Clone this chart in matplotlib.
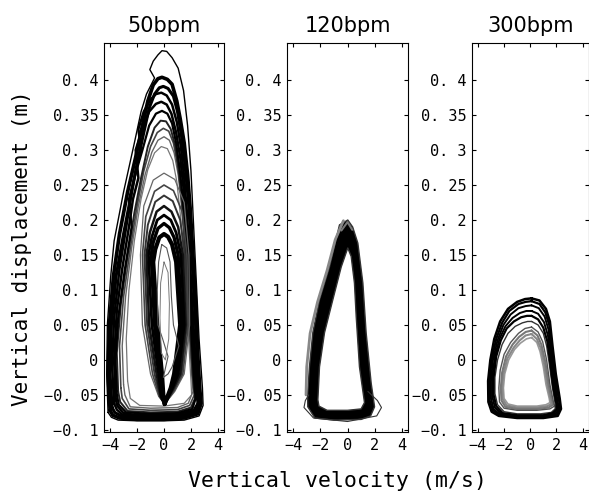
#!/usr/bin/env python
# Phase portraits (vertical velocity vs vertical displacement) at three tempos.

import matplotlib
matplotlib.use('Agg')
import matplotlib.pyplot as plt
from matplotlib.path import Path
from matplotlib.patches import PathPatch

# ---- data: (velocity m/s, displacement m) ----
titles = ['50bpm', '120bpm', '300bpm']
x_ticks = [-4, -2, 0, 2, 4]
x_tick_labels = ['\u22124', '\u22122', '0', '2', '4']
y_ticks = [-0.1, -0.05, 0, 0.05, 0.1, 0.15, 0.2, 0.25, 0.3, 0.35, 0.4]
y_tick_labels = ['\u22120. 1', '\u22120. 05', '0', '0. 05', '0. 1', '0. 15',
                 '0. 2', '0. 25', '0. 3', '0. 35', '0. 4']

# 50 bpm: big loops with flat bottom
loops_50_outer = [
    [(-4.15,-0.075),(-4.25,-0.02),(-4.2,0.05),(-3.95,0.12),(-3.7,0.17),(-3.0,0.24),(-2.2,0.31),
     (-1.7,0.355),(-1.3,0.38),(-0.7,0.403),(-1.05,0.415),(-0.8,0.427),(-0.45,0.436),(-0.15,0.442),
     (0.2,0.441),(0.6,0.432),(1.05,0.417),(1.45,0.385),(1.75,0.335),(2.0,0.27),(2.2,0.19),(2.4,0.11),
     (2.6,0.03),(2.85,-0.04),(2.9,-0.065),(2.6,-0.08),(1.5,-0.086),(0.0,-0.087),(-2.0,-0.087),
     (-3.4,-0.086),(-3.9,-0.082),(-4.15,-0.075)],
    [(-4.0,-0.072),(-4.15,-0.02),(-4.05,0.05),(-3.75,0.12),(-3.3,0.18),(-2.7,0.24),(-2.1,0.29),
     (-1.6,0.335),(-1.2,0.37),(-0.8,0.393),(-0.45,0.402),(-0.15,0.404),(0.25,0.401),(0.6,0.394),
     (0.95,0.37),(1.2,0.345),(1.5,0.31),(1.75,0.265),(1.95,0.215),(2.15,0.15),(2.35,0.08),(2.5,0.01),
     (2.65,-0.04),(2.75,-0.062),(2.5,-0.077),(1.5,-0.083),(0,-0.085),(-2,-0.085),(-3.3,-0.083),
     (-3.8,-0.079),(-4.0,-0.072)],
    [(-3.85,-0.068),(-4.0,-0.02),(-3.9,0.05),(-3.55,0.12),(-3.0,0.18),(-2.5,0.23),(-2.0,0.28),
     (-1.5,0.325),(-1.1,0.36),(-0.7,0.38),(-0.35,0.389),(-0.05,0.391),(0.3,0.388),(0.7,0.377),
     (1.0,0.355),(1.3,0.32),(1.55,0.28),(1.8,0.23),(2.0,0.17),(2.2,0.1),(2.4,0.03),(2.55,-0.03),
     (2.65,-0.058),(2.4,-0.074),(1.5,-0.08),(0,-0.082),(-2,-0.082),(-3.2,-0.08),(-3.65,-0.075),
     (-3.85,-0.068)],
    [(-3.7,-0.062),(-3.85,-0.01),(-3.7,0.06),(-3.3,0.13),(-2.8,0.19),(-2.4,0.24),(-2.1,0.27),
     (-1.7,0.3),(-1.9,0.33),(-1.5,0.355),(-1.0,0.372),(-0.6,0.38),(-0.2,0.382),(0.2,0.378),
     (0.6,0.365),(0.95,0.34),(1.25,0.305),(1.5,0.26),(1.7,0.21),(1.9,0.15),(2.1,0.08),(2.3,0.01),
     (2.45,-0.04),(2.55,-0.06),(2.3,-0.073),(1.5,-0.078),(0,-0.08),(-2,-0.08),(-3.1,-0.078),
     (-3.5,-0.071),(-3.7,-0.062)],
    [(-3.6,-0.055),(-3.7,0.0),(-3.5,0.07),(-3.1,0.13),(-2.6,0.19),(-2.3,0.23),(-1.9,0.26),
     (-2.1,0.3),(-1.6,0.33),(-1.1,0.355),(-0.6,0.366),(-0.2,0.369),(0.2,0.365),(0.55,0.352),
     (0.9,0.325),(1.2,0.29),(1.45,0.245),(1.65,0.195),(1.85,0.135),(2.05,0.07),(2.25,0.0),
     (2.4,-0.045),(2.5,-0.062),(2.2,-0.072),(1.2,-0.077),(0,-0.079),(-2,-0.079),(-3.0,-0.076),
     (-3.45,-0.066),(-3.6,-0.055)],
    [(-3.5,-0.05),(-3.6,0.0),(-3.4,0.06),(-2.9,0.13),(-2.4,0.19),(-2.6,0.23),(-2.2,0.26),
     (-1.6,0.3),(-1.1,0.335),(-0.6,0.352),(-0.15,0.356),(0.25,0.352),(0.6,0.338),(0.9,0.31),
     (1.15,0.275),(1.4,0.23),(1.6,0.18),(1.8,0.12),(2.0,0.05),(2.2,-0.02),(2.35,-0.055),
     (2.1,-0.07),(1.0,-0.076),(-1,-0.077),(-2.8,-0.075),(-3.35,-0.064),(-3.5,-0.05)],
    [(-3.4,-0.045),(-3.5,0.01),(-3.2,0.08),(-2.7,0.15),(-2.2,0.21),(-1.7,0.26),(-1.2,0.305),
     (-0.7,0.332),(-0.25,0.342),(0.15,0.341),(0.5,0.33),(0.85,0.305),(1.1,0.27),(1.35,0.225),
     (1.55,0.17),(1.75,0.11),(1.95,0.04),(2.15,-0.025),(2.3,-0.055),(2.0,-0.068),(1.0,-0.074),
     (-1,-0.075),(-2.7,-0.073),(-3.25,-0.06),(-3.4,-0.045)],
    [(-3.2,-0.04),(-3.3,0.02),(-3.0,0.09),(-2.5,0.16),(-2.0,0.22),(-1.5,0.27),(-1.0,0.305),
     (-0.5,0.325),(-0.05,0.331),(0.35,0.327),(0.7,0.31),(1.0,0.28),(1.25,0.24),(1.5,0.185),
     (1.7,0.12),(1.9,0.05),(2.1,-0.02),(2.25,-0.05),(1.9,-0.065),(1.0,-0.071),(-1,-0.072),
     (-2.6,-0.07),(-3.1,-0.055),(-3.2,-0.04)],
    [(-3.0,-0.035),(-3.1,0.02),(-2.85,0.09),(-2.4,0.16),(-1.9,0.22),(-1.4,0.265),(-0.9,0.297),
     (-0.45,0.314),(0.0,0.319),(0.4,0.314),(0.75,0.296),(1.05,0.265),(1.3,0.22),(1.5,0.165),
     (1.7,0.1),(1.9,0.03),(2.05,-0.02),(2.15,-0.045),(1.8,-0.062),(1.0,-0.068),(-1,-0.069),
     (-2.5,-0.067),(-2.9,-0.05),(-3.0,-0.035)],
    [(-2.7,-0.03),(-2.8,0.03),(-2.6,0.1),(-2.2,0.17),(-1.7,0.23),(-1.2,0.272),(-0.7,0.296),
     (-0.2,0.305),(0.25,0.302),(0.65,0.285),(0.95,0.255),(1.2,0.21),(1.45,0.15),(1.65,0.085),
     (1.85,0.02),(2.0,-0.03),(2.05,-0.05),(1.5,-0.062),(0,-0.066),(-1.8,-0.065),(-2.5,-0.055),
     (-2.7,-0.03)],
]
colors_50_outer = ['black', 'black', 'black', 'black', 'black', 'black', '#222', '#444', '#666', '#777']
widths_50_outer = [1.0, 2.6, 2.2, 1.8, 1.8, 1.6, 1.4, 1.2, 1.0, 0.9]

# 50 bpm: smaller loops with a V shaped bottom
loops_50_inner = [
    [(0.05,-0.063),(0.8,-0.045),(1.5,-0.02),(1.9,0.05),(1.85,0.15),(1.5,0.225),(0.8,0.258),(0.0,0.267),
     (-0.8,0.257),(-1.5,0.22),(-1.75,0.15),(-1.6,0.05),(-1.0,-0.02),(-0.4,-0.052),(0.05,-0.063)],
    [(0.05,-0.063),(0.75,-0.044),(1.4,-0.02),(1.8,0.05),(1.7,0.15),(1.35,0.212),(0.7,0.242),(0.0,0.25),
     (-0.7,0.241),(-1.35,0.205),(-1.6,0.15),(-1.4,0.05),(-0.85,-0.02),(-0.35,-0.052),(0.05,-0.063)],
    [(0.05,-0.063),(0.7,-0.043),(1.3,-0.02),(1.7,0.05),(1.55,0.15),(1.2,0.2),(0.65,0.227),(0.0,0.235),
     (-0.65,0.226),(-1.2,0.193),(-1.45,0.15),(-1.25,0.05),(-0.7,-0.02),(-0.3,-0.052),(0.05,-0.063)],
    [(0.05,-0.063),(0.65,-0.042),(1.2,-0.02),(1.6,0.05),(1.4,0.15),(1.05,0.19),(0.55,0.212),(0.0,0.22),
     (-0.55,0.212),(-1.05,0.182),(-1.3,0.15),(-1.1,0.05),(-0.55,-0.02),(-0.25,-0.052),(0.05,-0.063)],
    [(0.05,-0.063),(0.6,-0.041),(1.05,-0.02),(1.5,0.05),(1.25,0.15),(0.9,0.182),(0.5,0.2),(0.0,0.207),
     (-0.5,0.2),(-0.9,0.176),(-1.15,0.15),(-0.9,0.05),(-0.4,-0.02),(-0.2,-0.052),(0.05,-0.063)],
    [(0.05,-0.063),(0.55,-0.04),(0.9,-0.02),(1.35,0.05),(1.05,0.15),(0.75,0.175),(0.4,0.189),(0.0,0.195),
     (-0.45,0.188),(-0.8,0.168),(-0.95,0.15),(-0.7,0.05),(-0.3,-0.02),(-0.15,-0.052),(0.05,-0.063)],
    [(0.05,-0.063),(0.5,-0.04),(0.75,-0.02),(1.2,0.05),(0.9,0.14),(0.6,0.165),(0.3,0.176),(0.0,0.18),
     (-0.35,0.175),(-0.65,0.158),(-0.8,0.14),(-0.5,0.05),(-0.15,-0.02),(-0.05,-0.05),(0.05,-0.063)],
    [(-0.17,0.165),(0.2,0.16),(0.45,0.14),(0.55,0.09),(0.7,0.05),(1.1,0.02),(0.6,-0.01),(0.3,-0.02),
     (-0.05,-0.025),(0.3,0.005),(-0.1,0.03),(-0.45,0.05),(-0.5,0.1),(-0.4,0.14),(-0.17,0.165)],
    [(0.0,0.14),(0.3,0.125),(0.4,0.08),(0.35,0.03),(0.1,0.0),(-0.2,0.01),(-0.3,0.06),(-0.25,0.11),(0.0,0.14)],
]
colors_50_inner = ['#666', '#444', '#333', '#111', 'black', 'black', 'black', '#555', '#777']
widths_50_inner = [0.9, 1.2, 1.4, 1.8, 2.0, 2.4, 3.0, 0.8, 0.7]

# 120 bpm: one tight band of loops, given by its outer and inner edge
band_120_outer = [(0.02,0.200),(0.38,0.19),(0.76,0.167),(1.13,0.11),(1.37,0.039),(1.74,-0.033),
                  (1.99,-0.067),(1.7,-0.08),(1.0,-0.085),(-1.0,-0.086),(-2.4,-0.083),(-2.92,-0.067),
                  (-2.94,-0.052),(-2.8,-0.01),(-2.55,0.039),(-2.06,0.086),(-1.32,0.133),(-0.59,0.193),
                  (0.02,0.2)]
band_120_inner = [(0.02,0.16),(0.27,0.148),(0.51,0.11),(0.64,0.062),(0.88,-0.01),(1.25,-0.061),
                  (1.0,-0.07),(0,-0.072),(-1.5,-0.072),(-2.1,-0.066),(-2.18,-0.057),(-2.06,-0.01),
                  (-1.69,0.039),(-1.08,0.086),(-0.46,0.133),(0.02,0.16)]
lines_120 = [
    [(-0.3,0.199),(-0.9,0.172),(-1.5,0.128),(-2.2,0.083),(-2.75,0.038),(-3.0,-0.01),(-3.05,-0.05)],
    [(-0.45,0.185),(0.0,0.197),(0.35,0.186)],
    [(1.5,-0.045),(2.2,-0.058),(2.5,-0.068),(2.15,-0.08),(0,-0.088),(-2.5,-0.083),(-3.2,-0.068),
     (-3.1,-0.058),(-2.85,-0.05)],
]
colors_120 = ['#888', '#777', '#333']
widths_120 = [2.0, 1.5, 0.8]

# 300 bpm: small loops
loops_300 = [
    [(0.1,0.032),(0.5,0.025),(0.75,0.012),(1.0,-0.01),(1.2,-0.035),(1.45,-0.055),(1.5,-0.061),(1.2,-0.064),
     (0.5,-0.066),(-1.0,-0.066),(-1.7,-0.063),(-2.0,-0.055),(-2.05,-0.04),(-1.95,-0.02),(-1.65,0.0),
     (-1.2,0.015),(-0.75,0.024),(-0.3,0.03),(0.1,0.032)],
    [(0.1,0.037),(0.5,0.03),(0.8,0.017),(1.05,-0.005),(1.3,-0.035),(1.55,-0.056),(1.6,-0.063),(1.3,-0.066),
     (0.5,-0.068),(-1.0,-0.068),(-1.8,-0.065),(-2.1,-0.056),(-2.15,-0.04),(-2.05,-0.02),(-1.75,0.002),
     (-1.25,0.018),(-0.8,0.028),(-0.35,0.035),(0.1,0.037)],
    [(0.1,0.042),(0.55,0.035),(0.85,0.022),(1.15,-0.003),(1.4,-0.035),(1.65,-0.057),(1.75,-0.064),(1.4,-0.068),
     (0.5,-0.07),(-1.0,-0.07),(-1.9,-0.067),(-2.2,-0.058),(-2.25,-0.04),(-2.15,-0.018),(-1.85,0.005),
     (-1.35,0.022),(-0.85,0.033),(-0.35,0.04),(0.1,0.042)],
    [(0.1,0.047),(0.6,0.04),(0.95,0.026),(1.25,0.0),(1.5,-0.035),(1.75,-0.058),(1.85,-0.066),(1.5,-0.07),
     (0.5,-0.072),(-1.0,-0.072),(-2.0,-0.069),(-2.35,-0.06),(-2.4,-0.04),(-2.3,-0.015),(-2.0,0.008),
     (-1.5,0.025),(-0.9,0.038),(-0.4,0.045),(0.1,0.047)],
    [(0.1,0.055),(0.6,0.05),(1.0,0.038),(1.25,0.02),(1.45,-0.005),(1.7,-0.04),(1.9,-0.062),(1.9,-0.07),
     (1.6,-0.075),(0.8,-0.077),(-1.0,-0.077),(-2.0,-0.074),(-2.5,-0.064),(-2.7,-0.048),(-2.7,-0.025),
     (-2.5,0.0),(-2.15,0.022),(-1.7,0.038),(-1.15,0.048),(-0.6,0.053),(-0.2,0.055),(0.1,0.055)],
    [(0.1,0.063),(0.6,0.058),(1.0,0.046),(1.3,0.027),(1.5,0.0),(1.75,-0.038),(2.0,-0.063),(2.0,-0.071),
     (1.7,-0.076),(1.0,-0.079),(-1.0,-0.079),(-2.1,-0.076),(-2.6,-0.066),(-2.8,-0.05),(-2.8,-0.025),
     (-2.6,0.005),(-2.25,0.028),(-1.8,0.045),(-1.25,0.055),(-0.7,0.061),(-0.25,0.063),(0.1,0.063)],
    [(0.1,0.07),(0.6,0.066),(1.05,0.054),(1.35,0.035),(1.55,0.005),(1.8,-0.035),(2.05,-0.062),(2.1,-0.07),
     (1.8,-0.077),(1.0,-0.08),(-1.0,-0.08),(-2.2,-0.077),(-2.7,-0.068),(-2.9,-0.052),(-2.9,-0.025),
     (-2.7,0.005),(-2.35,0.03),(-1.9,0.048),(-1.35,0.06),(-0.8,0.067),(-0.3,0.07),(0.1,0.07)],
    [(0.1,0.078),(0.65,0.074),(1.1,0.062),(1.4,0.043),(1.6,0.01),(1.85,-0.03),(2.1,-0.06),(2.2,-0.07),
     (1.9,-0.078),(1.0,-0.081),(-1.0,-0.081),(-2.3,-0.078),(-2.8,-0.07),(-3.0,-0.055),(-3.0,-0.03),
     (-2.85,0.0),(-2.5,0.028),(-2.05,0.05),(-1.5,0.065),(-0.9,0.074),(-0.35,0.077),(0.1,0.078)],
    [(0.1,0.084),(0.7,0.08),(1.15,0.068),(1.45,0.05),(1.65,0.015),(1.9,-0.025),(2.2,-0.058),(2.3,-0.07),
     (2.0,-0.079),(1.0,-0.082),(-1.0,-0.082),(-2.3,-0.079),(-2.85,-0.072),(-3.1,-0.058),(-3.1,-0.03),
     (-2.95,0.0),(-2.6,0.03),(-2.15,0.053),(-1.6,0.07),(-0.9,0.08),(-0.35,0.083),(0.1,0.084)],
    [(0.1,0.088),(0.7,0.085),(1.2,0.073),(1.5,0.055),(1.7,0.02),(1.95,-0.02),(2.25,-0.055),(2.35,-0.07),
     (2.1,-0.08),(1.0,-0.083),(-1.0,-0.083),(-2.4,-0.08),(-2.95,-0.074),(-3.2,-0.06),(-3.22,-0.03),
     (-3.05,0.0),(-2.75,0.03),(-2.3,0.055),(-1.7,0.073),(-1.0,0.083),(-0.4,0.087),(0.1,0.088)],
]
colors_300 = ['#999', '#888', '#777', '#555', '#333', 'black', 'black', 'black', 'black', 'black']
widths_300 = [1.2, 1.5, 1.5, 1.0, 1.0, 1.6, 1.4, 1.4, 1.6, 1.8]

# ---- figure ----
plt.rcParams['font.family'] = ['DejaVu Sans Mono']
fig = plt.figure(figsize=(5.89, 4.98), dpi=100, facecolor='white')

W, H = 589.0, 498.0
lefts = [104, 287, 472]
widths = [120, 121, 116.5]
axes = []
for i in range(3):
    ax = fig.add_axes([lefts[i]/W, 1-432/H, widths[i]/W, 389/H])
    axes.append(ax)


def draw_loops(ax, loops, colors, lws):
    for pts, c, w in zip(loops, colors, lws):
        v = [p[0] for p in pts]
        d = [p[1] for p in pts]
        ax.plot(v, d, color=c, lw=w, solid_joinstyle='round', solid_capstyle='round')


# 50 bpm
draw_loops(axes[0], loops_50_outer[::-1], colors_50_outer[::-1], widths_50_outer[::-1])
draw_loops(axes[0], loops_50_inner, colors_50_inner, widths_50_inner)

# 120 bpm : filled band (outer edge with inner edge as a hole)
verts = band_120_outer + band_120_inner[::-1]
codes = ([Path.MOVETO] + [Path.LINETO]*(len(band_120_outer)-2) + [Path.CLOSEPOLY] +
         [Path.MOVETO] + [Path.LINETO]*(len(band_120_inner)-2) + [Path.CLOSEPOLY])
band = PathPatch(Path(verts, codes), facecolor='black', edgecolor='#333', lw=1.0,
                 joinstyle='round')
draw_loops(axes[1], lines_120[:1], colors_120[:1], widths_120[:1])
axes[1].add_patch(band)
draw_loops(axes[1], lines_120[1:], colors_120[1:], widths_120[1:])

# 300 bpm
draw_loops(axes[2], loops_300, colors_300, widths_300)

for i, ax in enumerate(axes):
    ax.set_xlim(-4.45, 4.45)
    ax.set_ylim(-0.103, 0.453)
    ax.set_xticks(x_ticks)
    ax.set_xticklabels(x_tick_labels)
    ax.set_yticks(y_ticks)
    ax.set_yticklabels(y_tick_labels)
    ax.tick_params(direction='in', length=3, width=0.8, top=True, right=True,
                   labelsize=11, pad=4)
    for s in ax.spines.values():
        s.set_linewidth(0.8)
    ax.set_title(titles[i], fontsize=15, family='DejaVu Sans', pad=8)

fig.text(338/W, 1-481/H, 'Vertical velocity (m/s)', ha='center', va='center', fontsize=15.5)
fig.text(22/W, 1-248/H, 'Vertical displacement (m)', ha='center', va='center',
         rotation=90, fontsize=15)

fig.savefig('out.png', dpi=100)
